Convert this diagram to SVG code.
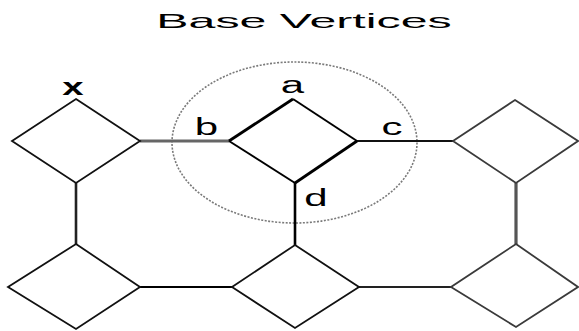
<svg xmlns="http://www.w3.org/2000/svg" width="579" height="331" viewBox="0 0 579 331">
  <style>
    .dia { fill: #fff; stroke: #111; stroke-width: 1.8; }
    .dia-grey { fill: #fff; stroke: #3a3a3a; stroke-width: 1.8; }
    .lbl { font-family: "Liberation Sans", Arial, sans-serif; font-size: 24px; fill: #000; text-anchor: middle; }
    .title { font-family: "Liberation Sans", Arial, sans-serif; font-size: 21px; fill: #000; text-anchor: middle; }
  </style>
  <rect width="579" height="331" fill="#fff"/>

  <text class="title" transform="translate(304,28) scale(2.3,1)">Base Vertices</text>

  <!-- neighbourhood circle around the base vertices -->
  <ellipse cx="294.5" cy="142.5" rx="122.5" ry="80.5" fill="none" stroke="#7a7a7a" stroke-width="1.6" stroke-dasharray="2 1.5"/>

  <g id="connectors" fill="none">
    <line x1="140" y1="141" x2="229" y2="141" stroke="#666" stroke-width="2.8"/>
    <line x1="357" y1="141" x2="453" y2="141" stroke="#111" stroke-width="1.8"/>
    <line x1="76" y1="183" x2="76" y2="244" stroke="#222" stroke-width="2.6"/>
    <line x1="295" y1="183" x2="295" y2="245" stroke="#000" stroke-width="2.6"/>
    <line x1="516" y1="183" x2="516" y2="244" stroke="#555" stroke-width="3.2"/>
    <line x1="140" y1="287" x2="232" y2="287" stroke="#000" stroke-width="2"/>
    <line x1="359" y1="287" x2="451" y2="287" stroke="#222" stroke-width="2.2"/>
  </g>

  <g id="node-top-left">
    <polygon class="dia" points="76,99 140,141 76,183 12,141"/>
  </g>
  <g id="node-top-right">
    <polygon class="dia-grey" points="515,100 578,141 516,183 453,141"/>
  </g>
  <g id="node-bottom-left">
    <polygon class="dia" points="76,244 140,287 76,329 8,287"/>
  </g>
  <g id="node-bottom-middle">
    <polygon class="dia" points="295,245 359,287 295,328 232,287"/>
  </g>
  <g id="node-bottom-right">
    <polygon class="dia-grey" points="516,244 578,287 516,327 451,287"/>
  </g>
  <g id="node-base" fill="none" stroke="#000">
    <line x1="229" y1="141" x2="293" y2="99" stroke-width="2.8"/>
    <line x1="293" y1="99" x2="357" y2="141" stroke-width="2"/>
    <line x1="357" y1="141" x2="295" y2="183" stroke-width="2.8"/>
    <line x1="295" y1="183" x2="229" y2="141" stroke-width="2"/>
  </g>

  <g id="labels">
    <text class="lbl" transform="translate(73,95) scale(1.6,1)" font-weight="bold" font-size="22">x</text>
    <text class="lbl" transform="translate(292.5,93) scale(1.75,1)">a</text>
    <text class="lbl" transform="translate(206.5,135) scale(1.75,1)">b</text>
    <text class="lbl" transform="translate(392,135) scale(1.75,1)">c</text>
    <text class="lbl" transform="translate(316,206) scale(1.75,1)">d</text>
  </g>
</svg>
